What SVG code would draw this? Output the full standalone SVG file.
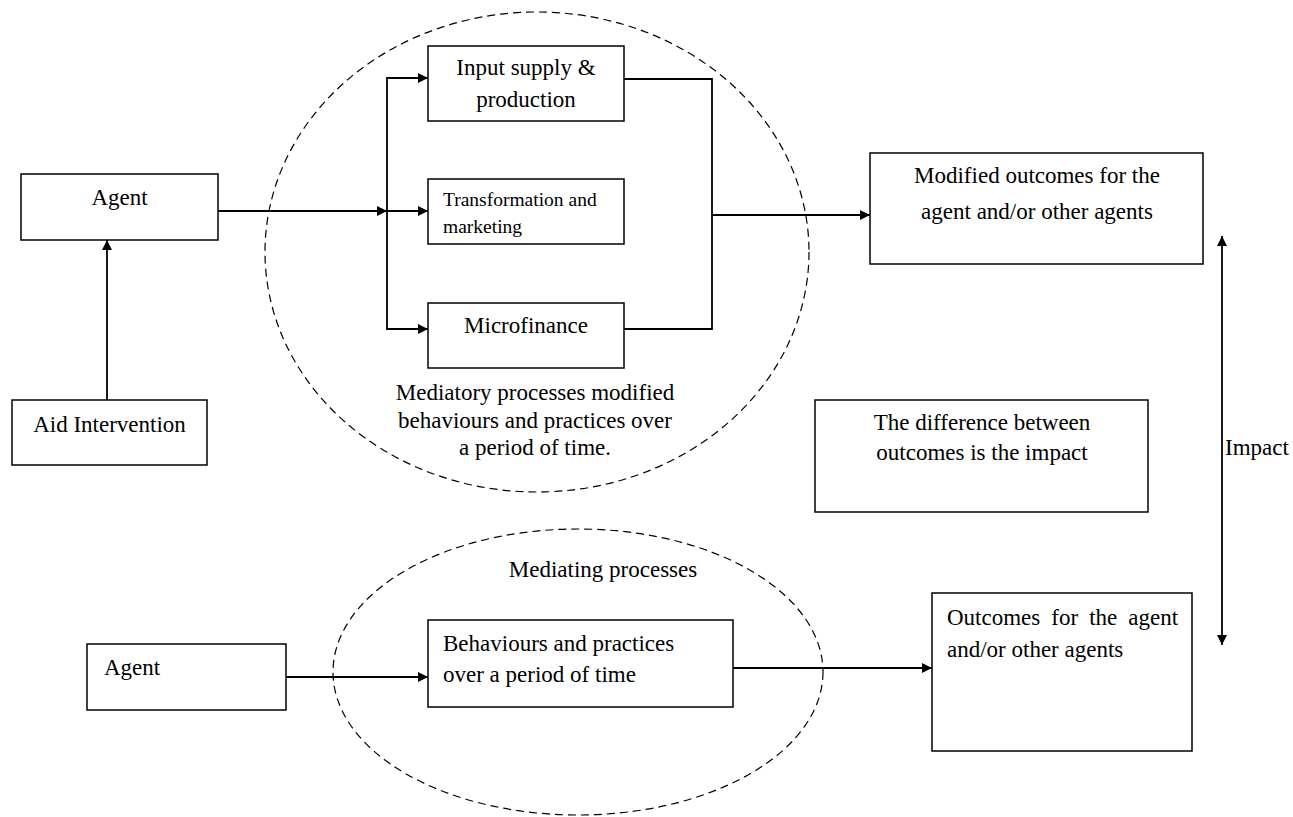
<svg xmlns="http://www.w3.org/2000/svg" width="1293" height="817" viewBox="0 0 1293 817">
<style>
.box{fill:#fff;stroke:#000;stroke-width:1.5}
.ell{fill:none;stroke:#000;stroke-width:1.2;stroke-dasharray:8 5}
.ln{fill:none;stroke:#000;stroke-width:1.8}
.t{font-family:"Liberation Serif","Times New Roman",serif;font-size:23px;fill:#000}
.c{text-anchor:middle}
.s{font-size:19.5px}
</style>
<defs>
<marker id="ah" viewBox="0 0 10 10" refX="10" refY="5" markerWidth="11" markerHeight="10" markerUnits="userSpaceOnUse" orient="auto-start-reverse">
<path d="M0,0 L10,5 L0,10 z" fill="#000"/>
</marker>
</defs>
<g id="ellipses">
<ellipse class="ell" cx="537" cy="252" rx="272" ry="240"/>
<ellipse class="ell" cx="578" cy="672" rx="245" ry="143"/>
</g>
<g id="connectors">
<line class="ln" x1="218" y1="211" x2="387" y2="211" marker-end="url(#ah)"/>
<line class="ln" x1="107" y1="400" x2="107" y2="240" marker-end="url(#ah)"/>
<polyline class="ln" points="428,78 387,78 387,329 428,329"/>
<line class="ln" x1="387" y1="78" x2="428" y2="78" marker-end="url(#ah)"/>
<line class="ln" x1="387" y1="211" x2="428" y2="211" marker-end="url(#ah)"/>
<line class="ln" x1="387" y1="329" x2="428" y2="329" marker-end="url(#ah)"/>
<polyline class="ln" points="624,79 712,79 712,329 624,329"/>
<line class="ln" x1="712" y1="215" x2="870" y2="215" marker-end="url(#ah)"/>
<line class="ln" x1="286" y1="677" x2="428" y2="677" marker-end="url(#ah)"/>
<line class="ln" x1="733" y1="668" x2="932" y2="668" marker-end="url(#ah)"/>
<line class="ln" x1="1222" y1="236" x2="1222" y2="645" marker-start="url(#ah)" marker-end="url(#ah)"/>
</g>
<g id="agent-top">
<rect class="box" x="21" y="174" width="197" height="66"/>
<text class="t c" x="119.5" y="205">Agent</text>
</g>
<g id="aid-intervention">
<rect class="box" x="12" y="400" width="195" height="65"/>
<text class="t c" x="109.5" y="432">Aid Intervention</text>
</g>
<g id="input-supply">
<rect class="box" x="428" y="46" width="196" height="75"/>
<text class="t c" x="526" y="75">Input supply &amp;</text>
<text class="t c" x="526" y="107">production</text>
</g>
<g id="transformation">
<rect class="box" x="428" y="179" width="196" height="65"/>
<text class="t s" x="443" y="206">Transformation and</text>
<text class="t s" x="443" y="233">marketing</text>
</g>
<g id="microfinance">
<rect class="box" x="428" y="303" width="196" height="65"/>
<text class="t c" x="526" y="333">Microfinance</text>
</g>
<g id="mediatory-label">
<text class="t c" x="535" y="400">Mediatory processes modified</text>
<text class="t c" x="535" y="428">behaviours and practices over</text>
<text class="t c" x="535" y="455">a period of time.</text>
</g>
<g id="modified-outcomes">
<rect class="box" x="870" y="153" width="333" height="111"/>
<text class="t c" x="1037" y="183">Modified outcomes for the</text>
<text class="t c" x="1037" y="219">agent and/or other agents</text>
</g>
<g id="difference">
<rect class="box" x="815" y="400" width="333" height="112"/>
<text class="t c" x="982" y="430">The difference between</text>
<text class="t c" x="982" y="460">outcomes is the impact</text>
</g>
<g id="impact-label">
<text class="t" x="1225" y="455">Impact</text>
</g>
<g id="mediating-label">
<text class="t c" x="603" y="577">Mediating processes</text>
</g>
<g id="agent-bottom">
<rect class="box" x="87" y="644" width="199" height="66"/>
<text class="t" x="104" y="675">Agent</text>
</g>
<g id="behaviours">
<rect class="box" x="428" y="620" width="305" height="87"/>
<text class="t" x="443" y="651">Behaviours and practices</text>
<text class="t" x="443" y="682">over a period of time</text>
</g>
<g id="outcomes">
<rect class="box" x="932" y="593" width="260" height="158"/>
<text class="t" x="947" y="625" word-spacing="5.3">Outcomes for the agent</text>
<text class="t" x="947" y="657">and/or other agents</text>
</g>
</svg>
